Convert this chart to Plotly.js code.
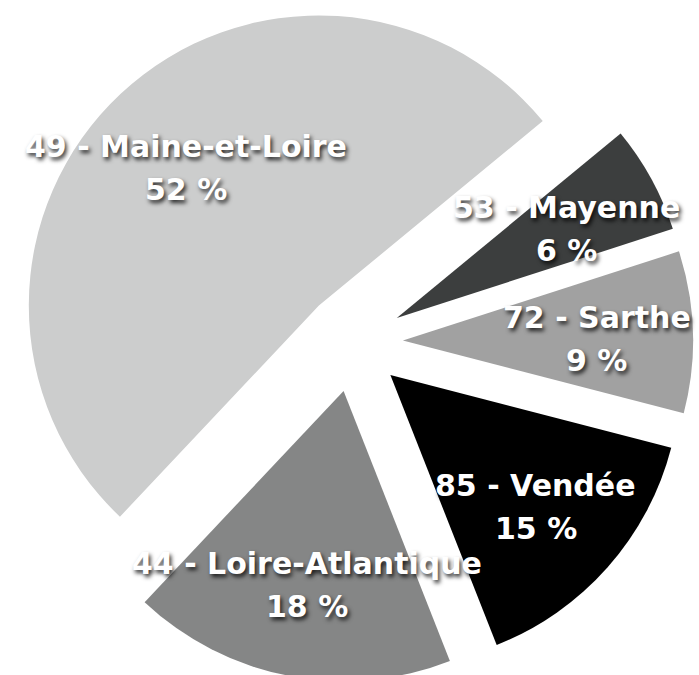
<!DOCTYPE html>
<html>
<head>
<meta charset="utf-8">
<script src="https://cdn.plot.ly/plotly-3.0.1.min.js"></script>
<style>
html, body { margin: 0; padding: 0; overflow: hidden; background: #ffffff; }
#chart { width: 699px; height: 700px; }
</style>
</head>
<body>
<div id="chart"></div>
<script>
// Departments (clockwise from the bottom)
const departments = ['44 - Loire-Atlantique', '49 - Maine-et-Loire', '53 - Mayenne', '72 - Sarthe', '85 - Vendée'];
const shares = [18, 52, 6, 9, 15];
const sliceColors = ['#858686', '#cccdcd', '#3c3e3e', '#a1a1a1', '#000000'];
const pulls = [0.172, 0.172, 0.172, 0.172, 0.172];

const ROTATION = 158.5;
const W = 699, H = 700;
const MARGIN = { l: 13, r: 6, t: 2, b: 18, pad: 0 };
const plotW = W - MARGIN.l - MARGIN.r;
const plotH = H - MARGIN.t - MARGIN.b;

const labelFont = {
  family: 'DejaVu Sans',
  size: 30,
  color: '#ffffff',
  weight: 'bold',
  shadow: '2px 3px 4px rgba(0,0,0,0.8)'
};

const trace = {
  type: 'pie',
  labels: departments,
  values: shares,
  sort: false,
  direction: 'clockwise',
  rotation: ROTATION,
  pull: pulls,
  marker: { colors: sliceColors, line: { width: 0 } },
  textinfo: 'none',
  hoverinfo: 'none',
  showlegend: false
};

// Labels placed along each slice's bisector, derived from the data
const total = shares.reduce((a, b) => a + b, 0);
const maxPull = Math.max(...pulls);
const R = Math.min(plotW, plotH) / (2 * (1 + maxPull));
const LABEL_R = 0.84;   // fraction of radius from the pie centre
const LINE_GAP = 43;    // px between the two label lines
const BASE_SHIFT = -4;  // small vertical nudge of the label block
const annotations = [];
let cum = 0;
shares.forEach((v, i) => {
  const mid = (ROTATION + (cum + v / 2) / total * 360) * Math.PI / 180;
  cum += v;
  const dx = Math.sin(mid) * LABEL_R * R;
  const dy = Math.cos(mid) * LABEL_R * R;
  const x = 0.5 + dx / plotW;
  const y = 0.5 + dy / plotH;
  annotations.push({
    x: x, y: y, xref: 'paper', yref: 'paper',
    xanchor: 'center', yanchor: 'middle',
    text: departments[i], showarrow: false,
    yshift: BASE_SHIFT + LINE_GAP / 2, font: labelFont
  });
  annotations.push({
    x: x, y: y, xref: 'paper', yref: 'paper',
    xanchor: 'center', yanchor: 'middle',
    text: v + ' %', showarrow: false,
    yshift: BASE_SHIFT - LINE_GAP / 2, font: labelFont
  });
});

const layout = {
  width: W,
  height: H,
  margin: MARGIN,
  paper_bgcolor: '#ffffff',
  plot_bgcolor: '#ffffff',
  showlegend: false,
  annotations: annotations
};

Plotly.newPlot('chart', [trace], layout, { displayModeBar: false, staticPlot: true });
</script>
</body>
</html>
